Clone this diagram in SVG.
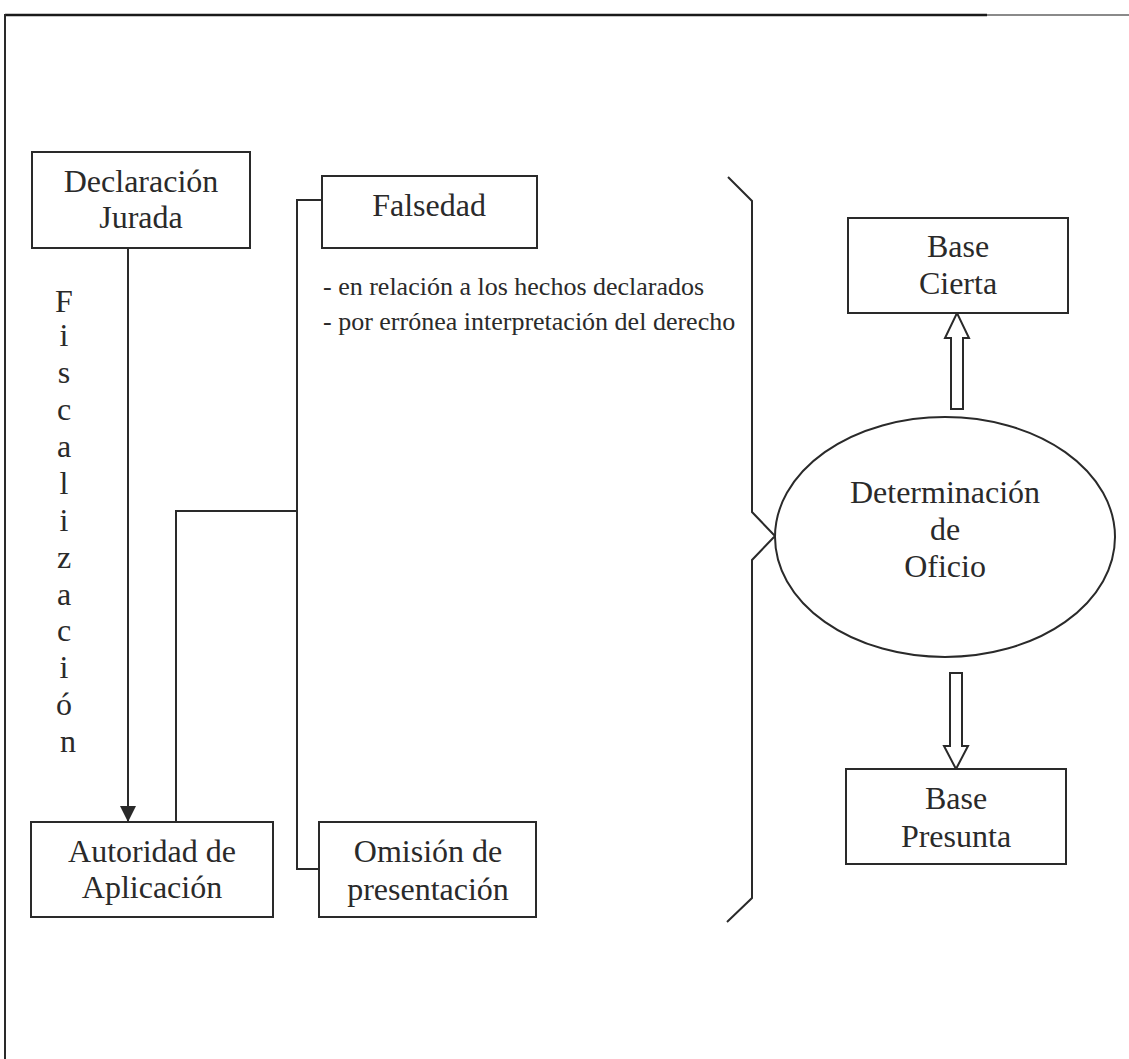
<svg xmlns="http://www.w3.org/2000/svg" width="1129" height="1059" viewBox="0 0 1129 1059">
  <style>
    .box { fill: #ffffff; stroke: #2a2a2a; stroke-width: 2; }
    .line { fill: none; stroke: #2a2a2a; stroke-width: 2; }
    .hollow { fill: #ffffff; stroke: #2a2a2a; stroke-width: 2; stroke-linejoin: miter; }
    .t { font-family: 'Liberation Serif', 'Times New Roman', serif; font-size: 32px; fill: #2a2a2a; text-anchor: middle; }
    .note { font-family: 'Liberation Serif', 'Times New Roman', serif; font-size: 26px; fill: #2a2a2a; }
  </style>
  <defs>
    <marker id="arrowhead" markerWidth="16" markerHeight="16" refX="16" refY="8" orient="auto" markerUnits="userSpaceOnUse">
      <path d="M0,0 L16,8 L0,16 Z" fill="#2a2a2a"/>
    </marker>
  </defs>

  <rect x="0" y="0" width="1129" height="1059" fill="#ffffff"/>

  <!-- page frame -->
  <g id="frame">
    <line x1="5" y1="15" x2="987" y2="15" stroke="#1a1a1a" stroke-width="2.5"/>
    <line x1="987" y1="15" x2="1129" y2="15" stroke="#8a8a8a" stroke-width="2"/>
    <line x1="5" y1="14" x2="5" y2="1059" stroke="#2a2a2a" stroke-width="2"/>
  </g>

  <!-- connectors -->
  <g id="connectors">
    <line class="line" x1="128" y1="248" x2="128" y2="822" marker-end="url(#arrowhead)"/>
    <polyline class="line" points="176,822 176,511 297,511"/>
    <polyline class="line" points="322,200 297,200 297,869 319,869"/>
    <path class="line" d="M728,177 L752,201 L752,512 L775,536 L752,560 L752,898 L727,922"/>
    <!-- hollow block arrows from the ellipse -->
    <path class="hollow" d="M951,409 L951,338 L945,338 L957,313 L969,338 L963,338 L963,409 Z"/>
    <path class="hollow" d="M950,673 L962,673 L962,746 L968,746 L956,769 L944,746 L950,746 Z"/>
  </g>

  <g id="fiscalizacion">
    <text class="t">
      <tspan x="68" y="312">F</tspan>
      <tspan x="68" y="346">i</tspan>
      <tspan x="68" y="383">s</tspan>
      <tspan x="68" y="420">c</tspan>
      <tspan x="68" y="457">a</tspan>
      <tspan x="68" y="494">l</tspan>
      <tspan x="68" y="531">i</tspan>
      <tspan x="68" y="568">z</tspan>
      <tspan x="68" y="605">a</tspan>
      <tspan x="68" y="641">c</tspan>
      <tspan x="68" y="678">i</tspan>
      <tspan x="68" y="715">ó</tspan>
      <tspan x="68" y="752">n</tspan>
    </text>
  </g>

  <g id="declaracion-jurada">
    <rect class="box" x="32" y="152" width="218" height="96"/>
    <text class="t" x="141" y="192">Declaración</text>
    <text class="t" x="141" y="228">Jurada</text>
  </g>

  <g id="autoridad-aplicacion">
    <rect class="box" x="31" y="822" width="242" height="95"/>
    <text class="t" x="152" y="862">Autoridad de</text>
    <text class="t" x="152" y="898">Aplicación</text>
  </g>

  <g id="falsedad">
    <rect class="box" x="322" y="176" width="215" height="72"/>
    <text class="t" x="429" y="216">Falsedad</text>
    <text class="note" x="323" y="295">- en relación a los hechos declarados</text>
    <text class="note" x="323" y="330">- por errónea interpretación del derecho</text>
  </g>

  <g id="omision-presentacion">
    <rect class="box" x="319" y="822" width="217" height="95"/>
    <text class="t" x="428" y="862">Omisión de</text>
    <text class="t" x="428" y="900">presentación</text>
  </g>

  <g id="determinacion-oficio">
    <ellipse class="box" cx="945" cy="537" rx="170" ry="120"/>
    <text class="t" x="945" y="503">Determinación</text>
    <text class="t" x="945" y="540">de</text>
    <text class="t" x="945" y="577">Oficio</text>
  </g>

  <g id="base-cierta">
    <rect class="box" x="848" y="218" width="220" height="95"/>
    <text class="t" x="958" y="257">Base</text>
    <text class="t" x="958" y="294">Cierta</text>
  </g>

  <g id="base-presunta">
    <rect class="box" x="846" y="769" width="220" height="95"/>
    <text class="t" x="956" y="809">Base</text>
    <text class="t" x="956" y="847">Presunta</text>
  </g>
</svg>
